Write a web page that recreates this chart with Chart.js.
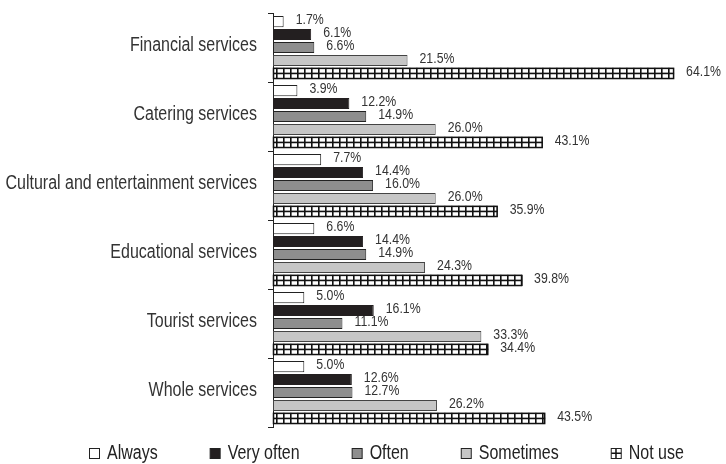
<!DOCTYPE html>
<html>
<head>
<meta charset="utf-8">
<script src="https://cdn.jsdelivr.net/npm/chart.js@4.4.1/dist/chart.umd.min.js"></script>
<style>
  html, body { margin: 0; padding: 0; background: #fff; }
  #wrap { width: 726px; height: 464px; }
</style>
</head>
<body>
<div id="wrap"><canvas id="myChart" width="726" height="464"></canvas></div>
<script>
const categories = ['Financial services', 'Catering services', 'Cultural and entertainment services',
  'Educational services', 'Tourist services', 'Whole services'];
const seriesNames = ['Always', 'Very often', 'Often', 'Sometimes', 'Not use'];
const always = [1.7, 3.9, 7.7, 6.6, 5.0, 5.0];
const veryOften = [6.1, 12.2, 14.4, 14.4, 16.1, 12.6];
const often = [6.6, 14.9, 16.0, 14.9, 11.1, 12.7];
const sometimes = [21.5, 26.0, 26.0, 24.3, 33.3, 26.2];
const notUse = [64.1, 43.1, 35.9, 39.8, 34.4, 43.5];

const FONT = '"Liberation Sans", Arial, sans-serif';
const NARROW = 0.82; // squeeze text sideways, the original uses a narrow face
const fills = ['#ffffff', '#231f20', '#8e8e8e', '#c6c6c6', '#ffffff'];
const borders = ['#222222', '#231f20', '#222222', '#444444', '#111111'];

const data = {
  labels: categories,
  datasets: [always, veryOften, often, sometimes, notUse].map((vals, i) => ({
    label: seriesNames[i],
    data: vals,
    backgroundColor: fills[i],
    borderColor: borders[i],
    borderWidth: 1,
    borderSkipped: false,
    categoryPercentage: 0.94,
    barPercentage: 0.86
  }))
};

function narrowText(ctx, text, x, y, align, size, color) {
  ctx.save();
  ctx.translate(x, y);
  ctx.scale(NARROW, 1);
  ctx.font = size + 'px ' + FONT;
  ctx.fillStyle = color;
  ctx.textAlign = align;
  ctx.textBaseline = 'middle';
  ctx.fillText(text, 0, 0);
  const w = ctx.measureText(text).width * NARROW;
  ctx.restore();
  return w;
}

// hatch for "Not use" bars, value labels, category labels
const barExtras = {
  id: 'barExtras',
  afterDatasetsDraw(chart) {
    const ctx = chart.ctx;
    ctx.save();
    chart.data.datasets.forEach((ds, di) => {
      const meta = chart.getDatasetMeta(di);
      meta.data.forEach((bar, j) => {
        const left = bar.base, right = bar.x;
        const top = bar.y - bar.height / 2, bottom = bar.y + bar.height / 2;
        if (di === 4) {
          ctx.fillStyle = '#111';
          for (let x = left + 3; x < right - 1; x += 7) {
            ctx.fillRect(x, top, 1.6, bottom - top);
          }
          ctx.fillRect(left, bar.y - 0.8, right - left, 1.6);
          ctx.strokeStyle = '#111';
          ctx.lineWidth = 1.5;
          ctx.strokeRect(left + 0.5, top + 0.5, right - left - 1, bottom - top - 1);
        }
        narrowText(ctx, ds.data[j].toFixed(1) + '%', right + 12, bar.y - 2, 'left', 15, '#333');
      });
    });
    const yScale = chart.scales.y;
    categories.forEach((c, i) => {
      narrowText(ctx, c, chart.chartArea.left - 16, yScale.getPixelForValue(i) - 2, 'right', 19.5, '#333');
    });
    ctx.restore();
  }
};

// legend drawn along the bottom
const bottomLegend = {
  id: 'bottomLegend',
  afterDraw(chart) {
    const ctx = chart.ctx;
    ctx.save();
    let x = 89;
    const y = 453;
    seriesNames.forEach((name, i) => {
      const bx = x + 0.5, by = y - 5 + 0.5;
      ctx.fillStyle = fills[i];
      ctx.fillRect(bx, by, 10, 10);
      if (i === 4) {
        ctx.fillStyle = '#111';
        ctx.fillRect(bx + 4, by, 1.5, 10);
        ctx.fillRect(bx, by + 4, 10, 1.5);
      }
      ctx.strokeStyle = '#222';
      ctx.lineWidth = 1;
      ctx.strokeRect(bx, by, 10, 10);
      const w = narrowText(ctx, name, x + 18, y + 1, 'left', 19.5, '#222');
      x += 18 + w + 52;
    });
    ctx.restore();
  }
};

const config = {
  type: 'bar',
  data,
  options: {
    indexAxis: 'y',
    responsive: false,
    animation: false,
    layout: { padding: { top: 13, bottom: 37, right: 15, left: 0 } },
    scales: {
      x: { display: false, min: 0, max: 70 },
      y: {
        afterFit(scale) { scale.width = 273; },
        grid: {
          offset: true,
          drawOnChartArea: false,
          drawTicks: true,
          tickLength: 5,
          color: '#222'
        },
        border: { display: true, color: '#222', width: 1 },
        ticks: { display: false }
      }
    },
    plugins: {
      legend: { display: false },
      tooltip: { enabled: false }
    }
  },
  plugins: [barExtras, bottomLegend]
};

const myChart = new Chart(document.getElementById('myChart'), config);
</script>
</body>
</html>
